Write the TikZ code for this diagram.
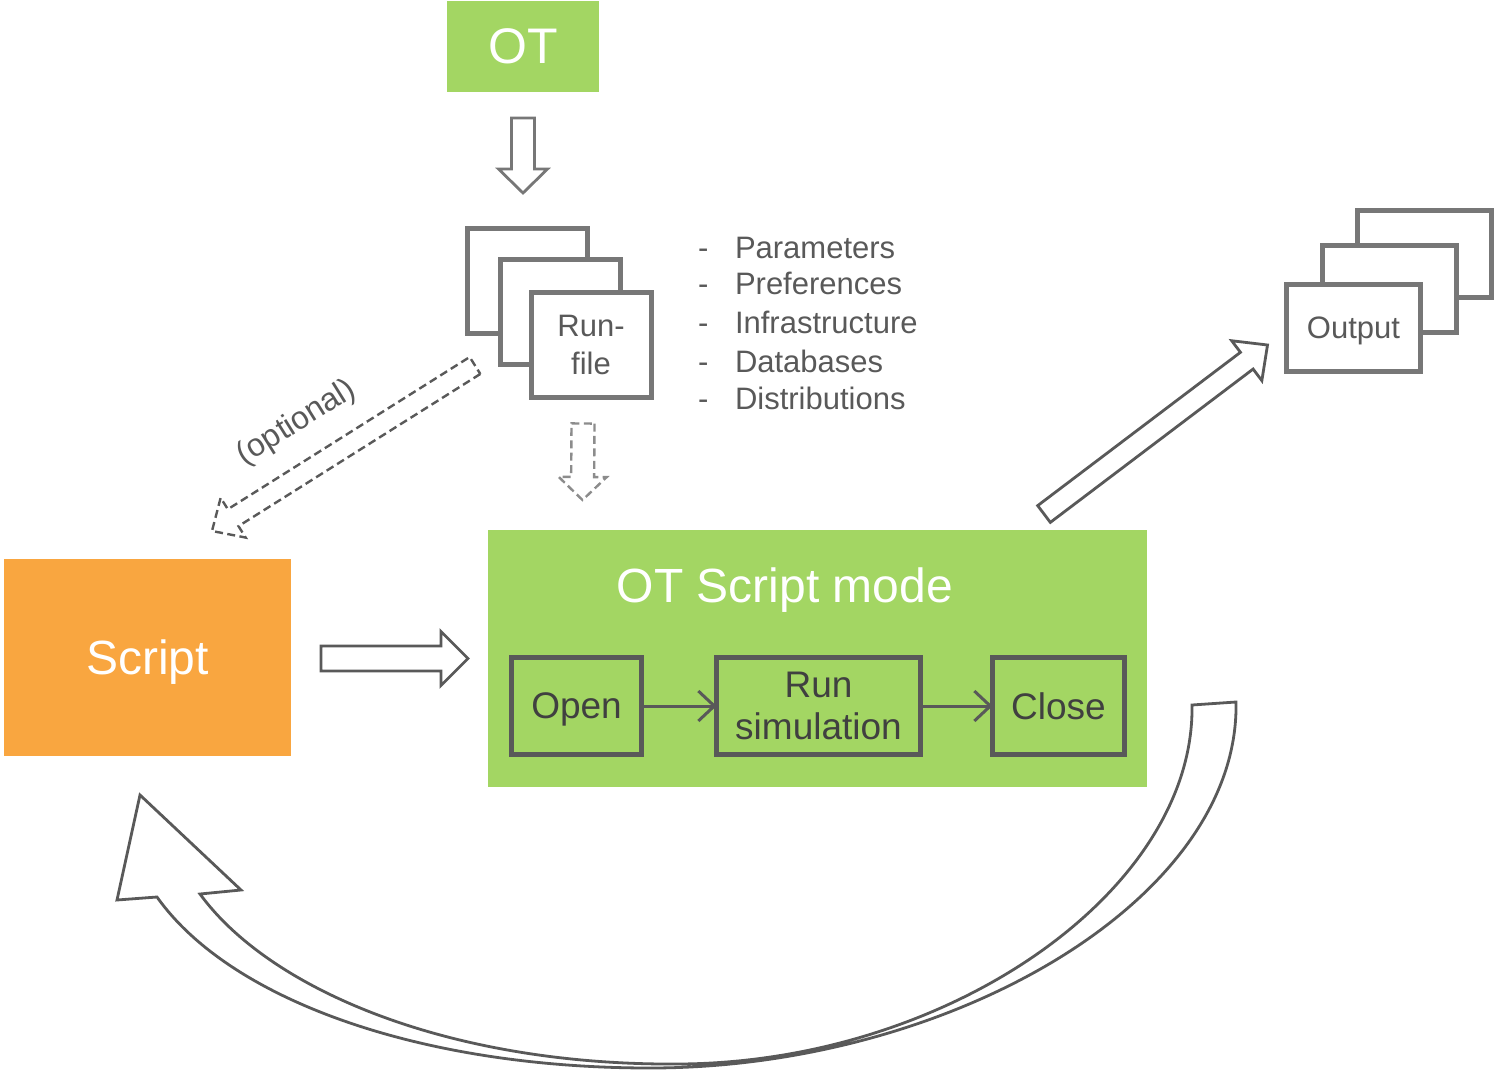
\documentclass[tikz,border=0pt]{standalone}
\usepackage{fontspec}
\setmainfont{Liberation Sans}
\usetikzlibrary{positioning,arrows.meta,calc}
\definecolor{leaf}  {HTML}{A3D663}
\definecolor{amber} {HTML}{F9A640}
\definecolor{ink}   {HTML}{595959}
\definecolor{frame} {HTML}{777777}
\definecolor{pale}  {HTML}{8C8C8C}
\definecolor{deep}  {HTML}{404040}

\begin{document}
\begin{tikzpicture}[x=0.5pt,y=-0.5pt,
  every node/.style={inner sep=0pt,outer sep=0pt},
  sheet/.style={draw=frame,line width=2.5pt,fill=white,text=ink,align=center,
    text depth=0pt,font=\fontsize{15.5}{19}\selectfont},
  stage/.style={draw=ink,line width=2.5pt,text=deep,align=center,minimum height=48.5pt,
    text depth=0pt,font=\fontsize{18.5}{21}\selectfont},
  item/.style={text=ink,anchor=base west,font=\fontsize{15.5}{19}\selectfont},
  flow/.style={draw=ink,line width=1.5pt,-{Straight Barb[length=8pt,width=15pt]}},
  hollow/.style={draw=#1,line width=1.4pt,fill=white},
  faint/.style={draw=#1,line width=1.2pt,dash pattern=on 4pt off 2.2pt}]
  \useasboundingbox (0,0) rectangle (1497,1075);

  % block arrow: style, tail, tip, half shaft, half head, head length
  \def\blockarrow#1#2#3#4#5#6{%
    \coordinate (tail) at #2; \coordinate (tip) at #3;
    \coordinate (neck) at ($(tip)!#6!(tail)$);
    \draw[#1] ($(tail)!#4!90:(tip)$) -- ($(neck)!#4!90:(tip)$)
      -- ($(neck)!#5!90:(tip)$) -- (tip) -- ($(neck)!#5!-90:(tip)$)
      -- ($(neck)!#4!-90:(tip)$) -- ($(tail)!#4!-90:(tip)$) -- cycle;}

  \node[fill=leaf,text=white,minimum width=76pt,minimum height=45.5pt,text depth=0pt,
        font=\fontsize{25}{30}\selectfont] (ot) at (523,46.5) {OT};

  % stacked run files
  \node[sheet,minimum width=60pt,minimum height=52.5pt] (rf3) at (527,280.5) {};
  \node[sheet,minimum width=60pt,minimum height=52.5pt] (rf2) at (560,312) {};
  \node[sheet,minimum width=60pt,minimum height=52.5pt] (rf1) at (591,345) {Run-\\file};

  \foreach \y/\t [count=\k] in {258/Parameters,294/Preferences,333/Infrastructure,
                                372/Databases,409/Distributions}{
    \node[item] (dash\k) at (698,\y) {-};
    \node[item] (item\k) at (735,\y) {\t};}

  % stacked outputs
  \node[sheet,minimum width=67pt,minimum height=43.5pt] (out3) at (1424,254) {};
  \node[sheet,minimum width=67pt,minimum height=43.5pt] (out2) at (1389.5,288.5) {};
  \node[sheet,minimum width=67pt,minimum height=43.5pt] (out1) at (1353.5,328) {Output};

  \node[fill=amber,text=white,minimum width=143.5pt,minimum height=98.5pt,text depth=0pt,
        font=\fontsize{24}{28}\selectfont] (script) at (147.5,657.5) {Script};

  \node[fill=leaf,minimum width=329.5pt,minimum height=128.5pt] (mode) at (817.5,658.5) {};
  \node[text=white,anchor=base,font=\fontsize{24}{28}\selectfont] (modetitle)
    at (785,602) {OT Script mode};

  \node[stage,minimum width=65pt] (open) at (576.5,706) {Open};
  \node[stage,minimum width=102pt] (run) at (818.5,706) {Run\\simulation};
  \node[stage,minimum width=66pt] (close) at (1058.5,706) {Close};
  \draw[flow] (open) -- (run);
  \draw[flow] (run) -- (close);

  \blockarrow{hollow=frame}{($(ot.south)+(0,26)$)}{($(ot.south)+(0,101)$)}{5.75pt}{12.25pt}{12pt}
  \blockarrow{faint=pale}{($(rf1.south)+(-8,26)$)}{($(mode.north)+(-235,-30)$)}{5.75pt}{12pt}{11.5pt}
  \blockarrow{faint=ink}{($(rf1.south west)+(-56,-32)$)}{($(script.north)+(64.5,-28)$)}{5pt}{11.75pt}{12.5pt}
  \node[text=ink,rotate=32,font=\fontsize{16}{19}\selectfont] (optional)
    at (297,423) {(optional)};
  \blockarrow{hollow=ink}{($(script.east)+(30,1)$)}{($(mode.west)+(-20,0)$)}{6.25pt}{13.5pt}{13.5pt}
  \blockarrow{hollow=ink}{($(mode.north east)+(-103,-16)$)}{($(out1.west)+(-19,17)$)}{5.25pt}{12.5pt}{13pt}

  % return arrow under the diagram
  \draw[hollow=ink] (1236,702) .. controls (1240,900) and (950,1068) .. (650,1068)
    .. controls (420,1068) and (230,1000) .. (157,897)
    -- (117,900) -- (140,795) -- (241,890) -- (200,894)
    .. controls (270,990) and (450,1066) .. (680,1064)
    .. controls (950,1062) and (1195,890) .. (1192,705) -- cycle;
\end{tikzpicture}
\end{document}
